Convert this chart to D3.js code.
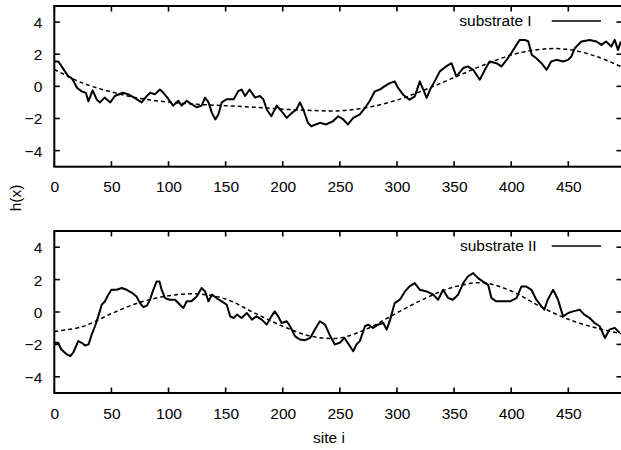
<!DOCTYPE html>
<html>
<head>
<meta charset="utf-8">
<script src="https://cdn.jsdelivr.net/npm/d3@7"></script>
<style>
  html, body { margin: 0; padding: 0; background: #fff; overflow: hidden; }
  svg { display: block; }
  text { font-family: "Liberation Sans", Arial, Helvetica, sans-serif; font-size: 15.5px; fill: #000; }
</style>
</head>
<body>
<script>
// ---- data ----
const xTicks = [0, 50, 100, 150, 200, 250, 300, 350, 400, 450];
const yTicks = [-4, -2, 0, 2, 4];
const seriesNames = ["substrate I", "substrate II"];

const topX = [0,3.5,6.4,9.3,12.3,15,17,20,24,27.7,29.8,33.6,37,40,44,49,53,60,65,72,76.5,81,84,88,92.5,95.5,100,104,108.6,111.5,116,120,124.7,129,132,135,138,141,143.6,146.6,151,157,161,164,167,171,175.8,180,183,186,190,194.7,199,203.5,208,212,215,218,222,225,232.5,238,244,248.5,253,257,261.7,267.5,272,276,280.6,285,289,293.7,298,301,305.4,311,315.6,320,323,326,329,333,337.5,343,347.7,352,358,362,366.7,372.5,377,381,387,391.5,396,400,404.6,407.5,412,415,418,422,426.5,431,435,439.6,445.4,449.8,452.7,455.6,461.5,468.7,474.6,479,483,487.7,490.6,493.5,496];
const topH = [1.55,1.55,1.24,0.93,0.62,0.52,0.31,-0.1,-0.31,-0.41,-0.93,-0.25,-0.8,-1.0,-0.7,-1.0,-0.6,-0.4,-0.5,-0.8,-1.0,-0.6,-0.4,-0.5,-0.2,-0.4,-0.8,-1.2,-0.9,-1.2,-0.9,-1.1,-1.3,-1.2,-0.7,-1.0,-1.65,-2.06,-1.75,-1.0,-0.8,-0.8,-0.3,-0.2,-0.6,-0.2,-0.7,-0.6,-0.8,-1.44,-1.86,-1.2,-1.55,-1.96,-1.65,-1.44,-1.0,-1.44,-2.27,-2.48,-2.27,-2.37,-2.17,-1.86,-2.06,-2.37,-1.96,-1.75,-1.34,-0.93,-0.31,-0.2,0,0.2,0.31,-0.1,-0.52,-0.83,-0.62,0.31,-0.2,-0.72,-0.2,0.31,0.93,1.24,1.44,0.62,1.14,1.24,1.03,0.41,1.03,1.55,1.44,1.24,1.65,2.06,2.58,2.89,2.89,2.79,1.96,1.75,1.44,1.03,1.55,1.65,1.55,1.65,1.86,2.37,2.79,2.89,2.79,2.58,2.79,2.48,2.89,2.27,2.79];

const topFitX = [0,25,50,75,100,125,150,175,200,225,250,275,300,325,350,375,400,425,450,475,497];
const topFitH = [1.05,0.2,-0.35,-0.75,-0.98,-1.12,-1.2,-1.3,-1.42,-1.5,-1.52,-1.3,-0.85,-0.2,0.55,1.3,1.95,2.3,2.3,1.85,1.2];

const botX = [0.5,3.5,6,11,14,16.6,21,24,27,30,32.7,35.6,38.5,41.5,44.4,47.3,50,54.6,59,63.4,67.7,72,75,78,81,83.8,86.7,89.6,92,94,97,101,105.7,110,113,116,120,124.7,129,132,135,138,142,146.6,151,154,157,160,164,168.5,173,177,181.6,186,190,193,196,199,203.5,206.4,210.8,215,219.6,224,228,232.5,237,241,245.6,250,254,258.7,261.7,264.6,267.5,272,274.8,279,283.5,288,291,294,298,302.5,307,311,315.6,320,326,331.7,336,340.4,344.8,349,353.5,358,362,366.7,371,375,379.8,382.7,387,393,399,404.6,409,413,417.7,422,426.5,429,432,436.7,441,445.4,450,454,460,464,468.7,473,477.5,482,486,490.6,495];
const botH = [-1.9,-1.9,-2.3,-2.62,-2.73,-2.5,-1.8,-1.9,-2.07,-2.0,-1.4,-0.88,-0.27,0.45,0.66,1.07,1.37,1.37,1.48,1.37,1.2,0.96,0.55,0.3,0.39,0.76,1.37,1.89,1.89,1.37,0.86,0.76,0.76,0.45,0.25,0.66,0.66,0.96,1.48,1.27,0.66,1.07,0.86,0.66,0.45,-0.27,-0.37,-0.16,-0.37,-0.06,-0.47,-0.27,-0.47,-0.78,-0.27,0.04,-0.27,-0.68,-0.57,-0.88,-1.5,-1.7,-1.74,-1.6,-1.09,-0.57,-0.78,-1.4,-2.0,-1.9,-1.6,-2.1,-2.42,-2.0,-1.8,-0.88,-0.78,-0.98,-0.78,-0.68,-1.09,-0.47,0.55,0.76,1.27,1.58,1.78,1.37,1.27,1.07,0.76,1.37,0.86,0.76,1.07,1.78,2.19,2.4,2.09,1.89,1.68,0.86,0.66,0.66,0.66,0.86,1.58,1.58,1.37,0.76,0.35,0.14,0.76,1.37,0.76,-0.27,-0.06,0.04,0.14,-0.16,-0.37,-0.68,-0.88,-1.6,-1.09,-0.98,-1.29];

const botFitX = [0,25,50,75,100,125,150,175,200,225,250,275,300,325,350,375,400,425,450,475,497];
const botFitH = [-1.2,-0.9,-0.1,0.6,1.0,1.12,0.8,-0.05,-0.88,-1.5,-1.6,-1.0,-0.05,0.85,1.55,1.8,1.3,0.35,-0.45,-1.0,-1.35];

// ---- layout ----
const W = 621, H = 450;
const svg = d3.select("body").append("svg").attr("width", W).attr("height", H);

const x = d3.scaleLinear().domain([0, 497]).range([54.3, 622]);
const panels = [
  { name: seriesNames[0], xs: topX, ys: topH, fx: topFitX, fy: topFitH, top: 6, bottom: 166.7, legendEnd: 531.7 },
  { name: seriesNames[1], xs: botX, ys: botH, fx: botFitX, fy: botFitH, top: 231, bottom: 393, legendEnd: 536.7 }
];

panels.forEach(p => {
  const y = d3.scaleLinear().domain([-5, 5]).range([p.bottom, p.top]);
  const g = svg.append("g");
  const tl = 5.5;

  // bottom axis ticks + labels
  const xb = d3.axisBottom(x).tickValues(xTicks).tickSize(0).tickPadding(0);
  const xbG = g.append("g").attr("transform", `translate(0,${p.bottom})`).call(xb);
  xbG.select(".domain").remove();
  xbG.selectAll("text").attr("dy", null).attr("y", 25.5).style("font-size", "15.5px")
     .attr("font-family", "Liberation Sans, Arial, sans-serif");

  // left axis labels
  const yl = d3.axisLeft(y).tickValues(yTicks).tickSize(0).tickPadding(0);
  const ylG = g.append("g").attr("transform", `translate(54.3,0)`).call(yl);
  ylG.select(".domain").remove();
  ylG.selectAll("text").attr("x", -12).attr("dy", "0.35em").style("font-size", "15.5px")
     .attr("font-family", "Liberation Sans, Arial, sans-serif");

  // inward ticks
  const tickG = g.append("g").attr("stroke", "#000").attr("stroke-width", 1.6);
  xTicks.forEach(t => {
    tickG.append("line").attr("x1", x(t)).attr("x2", x(t)).attr("y1", p.bottom).attr("y2", p.bottom - tl);
    tickG.append("line").attr("x1", x(t)).attr("x2", x(t)).attr("y1", p.top).attr("y2", p.top + tl);
  });
  yTicks.forEach(t => {
    tickG.append("line").attr("x1", x(0)).attr("x2", x(0) + tl).attr("y1", y(t)).attr("y2", y(t));
    tickG.append("line").attr("x1", x(497)).attr("x2", x(497) - tl).attr("y1", y(t)).attr("y2", y(t));
  });

  // data line
  const pts = p.xs.map((v, i) => [v, p.ys[i]]);
  const line = d3.line().x(d => x(d[0])).y(d => y(d[1]));
  g.append("path").datum(pts).attr("d", line).attr("fill", "none")
    .attr("stroke", "#000").attr("stroke-width", 2).attr("stroke-linejoin", "round");

  // fit curve (dashed)
  const fpts = p.fx.map((v, i) => [v, p.fy[i]]);
  const fline = d3.line().x(d => x(d[0])).y(d => y(d[1])).curve(d3.curveCatmullRom);
  g.append("path").datum(fpts).attr("d", fline).attr("fill", "none")
    .attr("stroke", "#000").attr("stroke-width", 1.5).attr("stroke-dasharray", "4,3");

  // legend
  const ly = p.top + 15;
  g.append("text").attr("x", p.legendEnd).attr("y", ly).attr("dy", "0.35em")
    .attr("text-anchor", "end").text(p.name);
  g.append("line").attr("x1", 551.7).attr("x2", 601).attr("y1", ly).attr("y2", ly)
    .attr("stroke", "#000").attr("stroke-width", 1.5);

  // border
  g.append("rect").attr("x", x(0)).attr("y", p.top).attr("width", x(497) - x(0))
    .attr("height", p.bottom - p.top).attr("fill", "none").attr("stroke", "#000").attr("stroke-width", 2);
});

// axis titles
svg.append("text").attr("transform", "translate(21,198) rotate(-90)")
  .attr("text-anchor", "middle").text("h(x)");
svg.append("text").attr("x", 329).attr("y", 443).attr("text-anchor", "middle").text("site i");
</script>
</body>
</html>
